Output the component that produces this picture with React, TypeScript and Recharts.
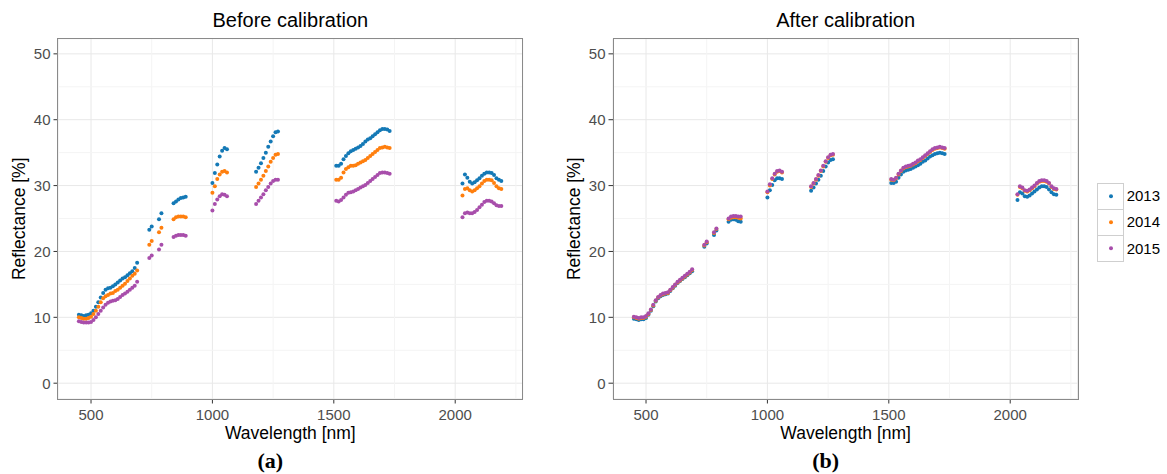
import React from 'react';
import { ScatterChart, Scatter, XAxis, YAxis, CartesianGrid, ReferenceLine } from 'recharts';

const wavelengths = [
  450, 460, 470, 480, 490, 500, 510, 520, 530, 540, 550, 560, 570, 580, 590, 600, 610, 620, 630, 640, 650, 660, 670, 680, 690,
  740, 750, 780, 790,
  840, 850, 860, 870, 880, 890,
  1000, 1010, 1020, 1030, 1040, 1050, 1060,
  1180, 1190, 1200, 1210, 1220, 1230, 1240, 1250, 1260, 1270,
  1510, 1520, 1530, 1540, 1550, 1560, 1570, 1580, 1590, 1600, 1610, 1620, 1630, 1640, 1650, 1660, 1670, 1680, 1690, 1700, 1710, 1720, 1730,
  2030, 2040, 2050, 2060, 2070, 2080, 2090, 2100, 2110, 2120, 2130, 2140, 2150, 2160, 2170, 2180, 2190,
];

const before2013 = [
  10.4, 10.3, 10.2, 10.3, 10.4, 10.6, 11.0, 11.6, 12.3, 13.0, 13.7, 14.2, 14.4, 14.5, 14.7, 15.0, 15.3, 15.6, 15.9, 16.1, 16.4, 16.7, 17.0, 17.5, 18.3,
  23.3, 23.8, 24.9, 25.8,
  27.3, 27.6, 27.9, 28.1, 28.2, 28.3,
  30.4, 31.9, 33.2, 34.4, 35.3, 35.7, 35.5,
  32.1, 32.7, 33.4, 34.2, 35.0, 35.9, 36.7, 37.5, 38.1, 38.2,
  33.0, 33.0, 33.3, 34.0, 34.5, 34.9, 35.2, 35.4, 35.6, 35.8, 36.0, 36.3, 36.7, 37.0, 37.2, 37.5, 37.8, 38.1, 38.4, 38.6, 38.6, 38.5, 38.3,
  30.3, 31.7, 31.2, 30.6, 30.3, 30.5, 30.8, 31.1, 31.5, 31.8, 32.0, 32.0, 31.9, 31.6, 31.1, 30.9, 30.7,
];
const before2014 = [
  10.0, 9.9, 9.8, 9.8, 9.9, 10.1, 10.5, 11.0, 11.6, 12.3, 12.9, 13.2, 13.4, 13.6, 13.7, 14.0, 14.2, 14.5, 14.8, 15.1, 15.5, 15.9, 16.3, 16.6, 17.1,
  21.0, 21.6, 22.9, 23.6,
  24.9, 25.2, 25.3, 25.3, 25.3, 25.2,
  28.9, 29.9, 31.0, 31.7, 32.1, 32.2, 32.0,
  29.8, 30.3, 30.9, 31.5, 32.2, 32.9, 33.6, 34.2, 34.7, 34.8,
  30.9, 30.9, 31.2, 32.0, 32.5, 32.8, 33.0, 33.0, 33.1, 33.3, 33.5, 33.7, 33.9, 34.2, 34.5, 34.8, 35.1, 35.4, 35.7, 35.8, 35.9, 35.8, 35.7,
  28.5, 29.5, 29.6, 29.3, 29.1, 29.3, 29.6, 29.9, 30.3, 30.7, 30.9, 30.9, 30.8, 30.4, 29.9, 29.6, 29.5,
];
const before2015 = [
  9.4, 9.3, 9.2, 9.2, 9.2, 9.3, 9.6, 10.0, 10.5, 11.0, 11.5, 11.9, 12.2, 12.4, 12.5, 12.6, 12.8, 13.1, 13.4, 13.6, 13.9, 14.2, 14.5, 14.8, 15.4,
  19.0, 19.4, 20.3, 21.0,
  22.2, 22.4, 22.5, 22.5, 22.5, 22.4,
  26.2, 27.2, 27.9, 28.4, 28.7, 28.6, 28.4,
  27.2, 27.7, 28.2, 28.7, 29.3, 29.8, 30.3, 30.7, 30.9, 30.9,
  27.7, 27.6, 27.8, 28.2, 28.6, 28.9, 29.0, 29.1, 29.3, 29.5, 29.7, 29.9, 30.1, 30.4, 30.7, 31.0, 31.3, 31.6, 31.9, 32.0, 32.0, 31.9, 31.8,
  25.2, 25.8, 25.9, 25.8, 25.8, 26.0, 26.3, 26.7, 27.1, 27.5, 27.7, 27.7, 27.6, 27.3, 27.0, 26.9, 26.9,
];

const after2013 = [
  9.8, 9.7, 9.6, 9.7, 9.7, 9.9, 10.4, 11.0, 11.7, 12.4, 12.9, 13.2, 13.4, 13.5, 13.6, 14.0, 14.4, 14.8, 15.2, 15.5, 15.8, 16.1, 16.4, 16.7, 17.0,
  20.7, 21.2, 22.5, 23.2,
  24.5, 24.8, 24.9, 24.8, 24.6, 24.5,
  28.2, 29.3, 30.1, 30.8, 31.1, 31.1, 31.0,
  29.2, 29.7, 30.3, 30.9, 31.5, 32.2, 32.9, 33.5, 33.9, 34.0,
  30.4, 30.4, 30.6, 31.2, 31.7, 32.1, 32.3, 32.4, 32.5, 32.7, 32.9, 33.1, 33.3, 33.6, 33.8, 34.1, 34.4, 34.6, 34.8, 34.9, 35.0, 34.9, 34.8,
  27.8, 29.0, 28.8, 28.4, 28.3, 28.5, 28.8, 29.1, 29.4, 29.7, 29.9, 29.9, 29.8, 29.4, 29.0, 28.7, 28.6,
];
const after2014 = [
  10.0, 9.9, 9.8, 9.9, 9.9, 10.1, 10.5, 11.1, 11.8, 12.5, 13.0, 13.3, 13.5, 13.6, 13.7, 14.1, 14.5, 14.9, 15.3, 15.6, 15.9, 16.2, 16.5, 16.8, 17.2,
  20.9, 21.4, 22.8, 23.4,
  24.9, 25.1, 25.2, 25.2, 25.1, 25.0,
  29.0, 30.0, 31.0, 31.7, 32.1, 32.2, 32.0,
  29.8, 30.3, 30.9, 31.5, 32.2, 32.9, 33.6, 34.2, 34.6, 34.7,
  30.9, 30.8, 31.1, 31.7, 32.2, 32.6, 32.8, 32.9, 33.0, 33.2, 33.4, 33.7, 33.9, 34.2, 34.5, 34.8, 35.1, 35.4, 35.6, 35.7, 35.8, 35.7, 35.6,
  28.6, 29.8, 29.6, 29.2, 29.1, 29.3, 29.6, 29.9, 30.3, 30.6, 30.7, 30.7, 30.6, 30.3, 29.8, 29.5, 29.4,
];
const after2015 = [
  10.1, 10.0, 9.9, 10.0, 10.0, 10.2, 10.6, 11.2, 11.9, 12.6, 13.1, 13.4, 13.6, 13.7, 13.8, 14.2, 14.6, 15.0, 15.4, 15.7, 16.0, 16.3, 16.6, 16.9, 17.3,
  21.0, 21.5, 22.9, 23.5,
  25.0, 25.3, 25.4, 25.4, 25.3, 25.3,
  29.1, 30.2, 31.1, 31.8, 32.2, 32.3, 32.1,
  29.9, 30.4, 31.0, 31.6, 32.3, 33.0, 33.7, 34.3, 34.7, 34.8,
  31.0, 30.9, 31.2, 31.8, 32.3, 32.7, 32.9, 33.0, 33.1, 33.3, 33.5, 33.8, 34.0, 34.3, 34.6, 34.9, 35.2, 35.5, 35.7, 35.8, 35.9, 35.8, 35.7,
  28.7, 29.9, 29.7, 29.3, 29.2, 29.4, 29.7, 30.0, 30.4, 30.7, 30.8, 30.8, 30.7, 30.4, 29.9, 29.6, 29.5,
];

const years = ['2013', '2014', '2015'];
const colors = ['#1479B6', '#FF7F0E', '#A84EAB'];
const xTicks = [500, 1000, 1500, 2000];
const yTicks = [0, 10, 20, 30, 40, 50];
const xMinor = [750, 1250, 1750, 2250];
const yMinor = [5, 15, 25, 35, 45];

const toPoints = (vals: number[]) => wavelengths.map((w, i) => ({ x: w, y: vals[i] }));

const FONT = '"Liberation Sans", Arial, Helvetica, sans-serif';
const DOT_R = 2;

const PW = 530;
const PH = 474;
const PLOT_LEFT = 58;
const PLOT_TOP = 38.7;
const PLOT_RIGHT = 7.3;
const PLOT_BOTTOM = 399;

function Panel({ left, title, caption, series }: { left: number; title: string; caption: string; series: number[][] }) {
  const plotW = PW - PLOT_LEFT - PLOT_RIGHT;
  const plotH = PLOT_BOTTOM - PLOT_TOP;
  const cx = PLOT_LEFT + plotW / 2;
  return (
    <div style={{ position: 'absolute', left, top: 0, width: PW, height: PH }}>
      <ScatterChart width={PW} height={PH} margin={{ top: PLOT_TOP, right: PLOT_RIGHT, bottom: 0, left: 0 }}>
        {xMinor.map((v) => (
          <ReferenceLine key={'xm' + v} x={v} stroke="#f4f4f4" strokeWidth={1} ifOverflow="hidden" />
        ))}
        {yMinor.map((v) => (
          <ReferenceLine key={'ym' + v} y={v} stroke="#f4f4f4" strokeWidth={1} ifOverflow="hidden" />
        ))}
        <CartesianGrid stroke="#e8e8e8" strokeWidth={1} />
        <XAxis
          type="number"
          dataKey="x"
          domain={[364, 2278]}
          ticks={xTicks}
          allowDataOverflow
          height={PH - PLOT_BOTTOM}
          axisLine={false}
          tickSize={4.5}
          tickMargin={6}
          tickLine={{ stroke: '#333333' }}
          tick={{ fill: '#4d4d4d', fontSize: 15, fontFamily: FONT }}
        />
        <YAxis
          type="number"
          dataKey="y"
          domain={[-2.4, 52.3]}
          ticks={yTicks}
          allowDataOverflow
          width={PLOT_LEFT}
          axisLine={false}
          tickSize={4.5}
          tickMargin={3}
          tickLine={{ stroke: '#333333' }}
          tick={{ fill: '#4d4d4d', fontSize: 15, fontFamily: FONT }}
        />
        {series.map((vals, si) => (
          <Scatter
            key={years[si]}
            name={years[si]}
            data={toPoints(vals)}
            isAnimationActive={false}
            shape={(p: any) => <circle cx={p.cx} cy={p.cy} r={DOT_R} fill={colors[si]} />}
          />
        ))}
      </ScatterChart>
      <div
        style={{
          position: 'absolute',
          left: PLOT_LEFT - 0.75,
          top: PLOT_TOP - 0.75,
          width: plotW + 1.5,
          height: plotH + 1.5,
          border: '1.5px solid #8a8a8a',
          boxSizing: 'border-box',
          pointerEvents: 'none',
        }}
      />
      <div
        style={{
          position: 'absolute',
          left: cx - 150,
          width: 300,
          top: 10.4,
          height: 20,
          lineHeight: '20px',
          fontSize: 20,
          textAlign: 'center',
          fontFamily: FONT,
          color: '#000',
          whiteSpace: 'nowrap',
        }}
      >
        {title}
      </div>
      <div
        style={{
          position: 'absolute',
          left: cx - 150,
          width: 300,
          top: 424.5,
          height: 17.5,
          lineHeight: '17.5px',
          fontSize: 17.5,
          textAlign: 'center',
          fontFamily: FONT,
          color: '#000',
          whiteSpace: 'nowrap',
        }}
      >
        Wavelength [nm]
      </div>
      <div
        style={{
          position: 'absolute',
          left: 20 - 150,
          width: 300,
          top: PLOT_TOP + plotH / 2 - 8.75,
          height: 17.5,
          lineHeight: '17.5px',
          fontSize: 17.5,
          textAlign: 'center',
          fontFamily: FONT,
          color: '#000',
          whiteSpace: 'nowrap',
          transform: 'rotate(-90deg)',
        }}
      >
        Reflectance [%]
      </div>
      <div
        style={{
          position: 'absolute',
          left: cx - 20 - 50,
          width: 100,
          top: 450,
          height: 22,
          lineHeight: '22px',
          fontSize: 22,
          fontWeight: 'bold',
          textAlign: 'center',
          fontFamily: '"Liberation Serif", "Times New Roman", serif',
          color: '#000',
          whiteSpace: 'nowrap',
        }}
      >
        {caption}
      </div>
    </div>
  );
}

function Legend() {
  return (
    <div style={{ position: 'absolute', left: 1096.7, top: 182.7 }}>
      {years.map((y, i) => (
        <div key={y} style={{ position: 'absolute', left: 0, top: i * 26.3, width: 27.6, height: 26.3 }}>
          <div
            style={{
              position: 'absolute',
              left: 0,
              top: 0,
              width: 27.6,
              height: i === 2 ? 26.3 : 27.8,
              border: '1.5px solid #cfcfcf',
              boxSizing: 'border-box',
              background: '#fff',
            }}
          />
          <svg width={28} height={27} style={{ position: 'absolute', left: 0, top: 0 }}>
            <circle cx={14} cy={13.2} r={DOT_R} fill={colors[i]} />
          </svg>
          <div
            style={{
              position: 'absolute',
              left: 30,
              top: 4.5,
              fontSize: 15,
              lineHeight: '17px',
              fontFamily: FONT,
              color: '#000',
              whiteSpace: 'nowrap',
            }}
          >
            {y}
          </div>
        </div>
      ))}
    </div>
  );
}

export default function App() {
  return (
    <div style={{ position: 'absolute', left: 0, top: 0, width: 1167, height: 474, background: '#fff', overflow: 'hidden' }}>
      <Panel left={0} title="Before calibration" caption="(a)" series={[before2013, before2014, before2015]} />
      <Panel left={555.3} title="After calibration" caption="(b)" series={[after2013, after2014, after2015]} />
      <Legend />
    </div>
  );
}
